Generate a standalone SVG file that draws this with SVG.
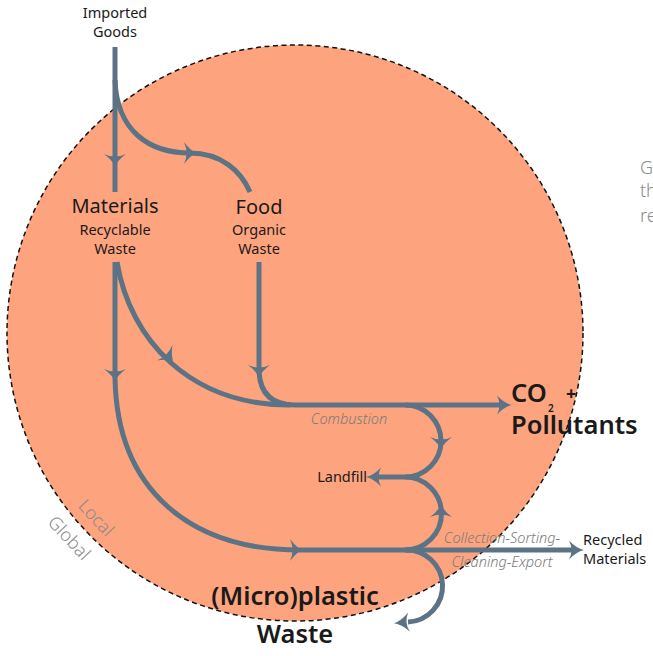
<svg xmlns="http://www.w3.org/2000/svg" xmlns:xlink="http://www.w3.org/1999/xlink" width="653" height="656" viewBox="0 0 653 656">
<defs>
<style>
.flow{fill:none;stroke:#5B7385;stroke-width:5;}
.ah{fill:#5B7385;}
.t{font-family:"Noto Sans","Open Sans","Liberation Sans",sans-serif;fill:#1a1a1a;}
.big{font-size:20px;}
.sub{font-size:14.5px;}
.huge{font-size:25.5px;font-weight:600;}
.note{font-family:"Noto Sans","Open Sans","Liberation Sans",sans-serif;font-size:14.5px;font-style:italic;fill:#7a7a7a;font-weight:300;}
.scope{font-family:"Noto Sans","Open Sans","Liberation Sans",sans-serif;font-size:18px;fill:#8a8a8a;font-weight:300;}
</style>
<path id="ah" class="ah" d="M3,0 Q-3,-3 -9,-11 Q-4,0 -9,11 Q-3,3 3,0 Z"/>
<path id="ahb" class="ah" d="M3,0 Q-5,-2 -12,-9.5 Q-7,0 -12,9.5 Q-5,2 3,0 Z"/>
</defs>
<g id="boundary">
<circle cx="295" cy="333" r="288" fill="#FDA47F" stroke="#111" stroke-width="1.5" stroke-dasharray="5,3.5"/>
</g>
<g id="connectors">
<path class="flow" d="M115,47 V192"/>
<path class="flow" d="M115,80 C117,132 150,153 190,153 C221,153 241,171 250,192"/>
<path class="flow" d="M115,262 V378 C117,490 190,550 300,550 H572"/>
<path class="flow" d="M117,262 C130,340 190,405 290,405"/>
<path class="flow" d="M259,262 V372 Q261,405 295,405 H502"/>
<path class="flow" d="M405,405 A36,36 0 0 1 405,477 H378"/>
<path class="flow" d="M405,550 A36.5,36.5 0 0 0 405,477"/>
<path class="flow" d="M405,550 A36,36 0 0 1 408,622"/>
<use xlink:href="#ah" transform="translate(115,163) rotate(90)"/>
<use xlink:href="#ah" transform="translate(193,153)"/>
<use xlink:href="#ah" transform="translate(115,378) rotate(90)"/>
<use xlink:href="#ah" transform="translate(171,359) rotate(45)"/>
<use xlink:href="#ah" transform="translate(259,374) rotate(90)"/>
<use xlink:href="#ah" transform="translate(299,550)"/>
<use xlink:href="#ah" transform="translate(441,446) rotate(90)"/>
<use xlink:href="#ah" transform="translate(441,508) rotate(-90)"/>
<use xlink:href="#ahb" transform="translate(509,405)"/>
<use xlink:href="#ahb" transform="translate(581,550)"/>
<use xlink:href="#ahb" transform="translate(369,477) rotate(180)"/>
<use xlink:href="#ahb" transform="translate(397,623) rotate(175)"/>
</g>
<g id="imported">
<text class="t sub" x="115" y="18" text-anchor="middle">Imported</text>
<text class="t sub" x="115" y="37" text-anchor="middle">Goods</text>
</g>
<g id="materials">
<text class="t big" x="115" y="213" text-anchor="middle">Materials</text>
<text class="t sub" x="115" y="235" text-anchor="middle">Recyclable</text>
<text class="t sub" x="115" y="254" text-anchor="middle">Waste</text>
</g>
<g id="food">
<text class="t big" x="259" y="214" text-anchor="middle">Food</text>
<text class="t sub" x="259" y="235" text-anchor="middle">Organic</text>
<text class="t sub" x="259" y="254" text-anchor="middle">Waste</text>
</g>
<g id="co2">
<text class="t huge" x="511" y="402">CO</text>
<text class="t" x="548" y="412" font-size="10" font-weight="600">2</text>
<text class="t" x="566" y="400" font-size="18" font-weight="700">+</text>
<text class="t huge" x="511" y="434">Pollutants</text>
</g>
<g id="landfill">
<text class="t sub" x="367" y="482" text-anchor="end">Landfill</text>
</g>
<g id="recycled">
<text class="t sub" x="583" y="545">Recycled</text>
<text class="t sub" x="583" y="564">Materials</text>
</g>
<g id="plastic">
<text class="t huge" x="295" y="605" text-anchor="middle">(Micro)plastic</text>
<text class="t huge" x="295" y="643" text-anchor="middle">Waste</text>
</g>
<g id="labels">
<text class="note" x="349" y="424" text-anchor="middle">Combustion</text>
<text class="note" x="502" y="543" text-anchor="middle">Collection-Sorting-</text>
<text class="note" x="502" y="567" text-anchor="middle">Cleaning-Export</text>
<text class="scope" transform="translate(96,518) rotate(47)" text-anchor="middle" dy="6">Local</text>
<text class="scope" transform="translate(69,538) rotate(47)" text-anchor="middle" dy="6">Global</text>
<text class="scope" x="640" y="174">G</text>
<text class="scope" x="640" y="197">th</text>
<text class="scope" x="640" y="222">re</text>
</g>
</svg>
